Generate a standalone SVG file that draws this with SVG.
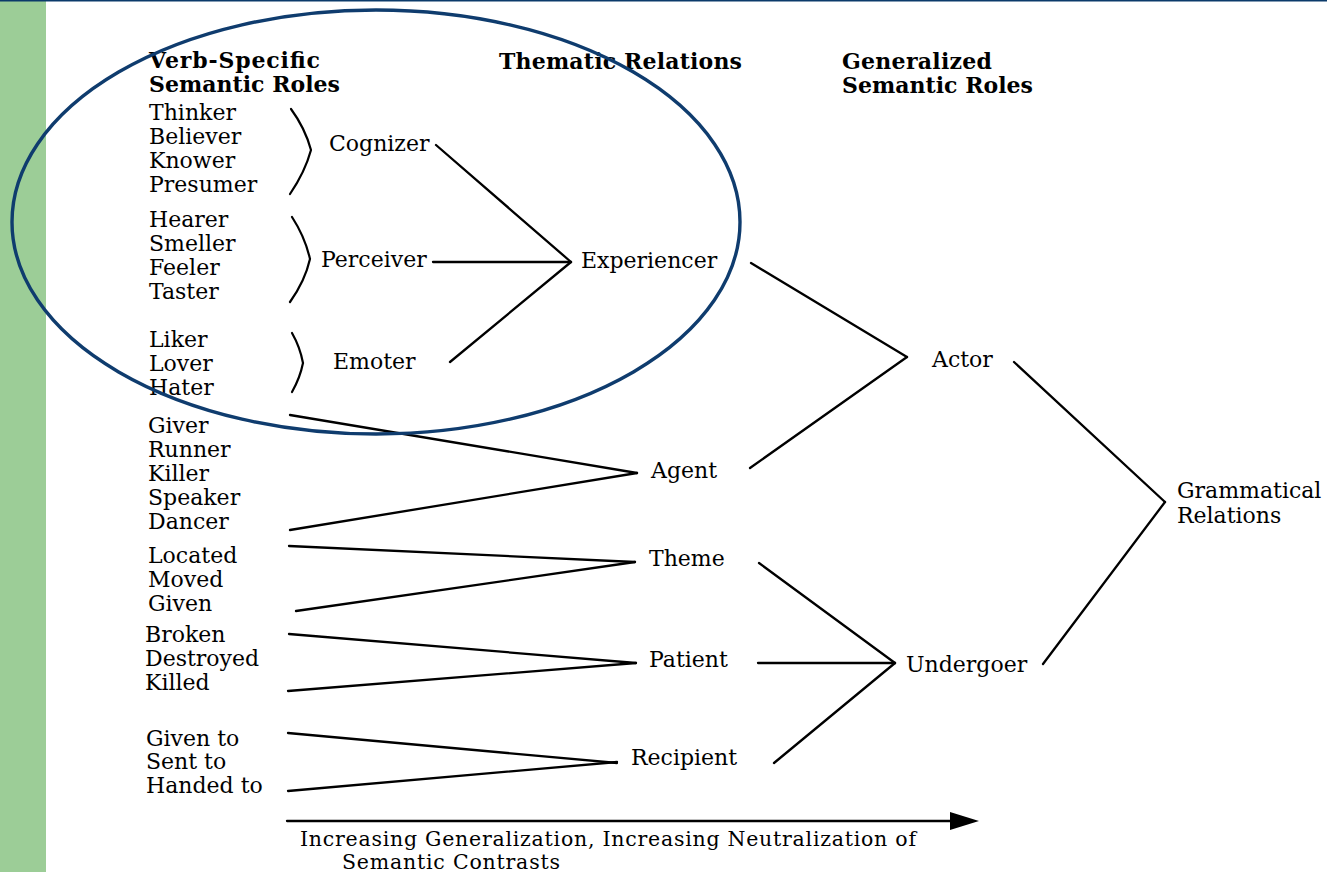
<svg xmlns="http://www.w3.org/2000/svg" width="1327" height="872" viewBox="0 0 1327 872">
<style>
text{font-family:"DejaVu Serif","Liberation Serif",serif;font-size:22px;fill:#000}
.h{font-weight:bold}
.cap{font-size:20.5px}
.c line,.c path{stroke:#000;stroke-width:2.3;fill:none;stroke-linecap:round}
.br{stroke:#000;stroke-width:2.2;fill:none;stroke-linecap:round}
</style>
<rect x="0" y="0" width="1327" height="872" fill="#fff"/>
<rect x="0" y="0" width="46" height="872" fill="#9ccd97"/>
<line x1="0" y1="0.75" x2="1327" y2="0.75" stroke="#0b3a6a" stroke-width="1.5"/>

<g id="headers">
<text class="h" x="149" y="68" textLength="171" lengthAdjust="spacing">Verb-Specific</text>
<text class="h" x="149" y="92" textLength="191" lengthAdjust="spacing">Semantic Roles</text>
<text class="h" x="499" y="69" textLength="243" lengthAdjust="spacing">Thematic Relations</text>
<text class="h" x="842" y="69" textLength="150" lengthAdjust="spacing">Generalized</text>
<text class="h" x="842" y="93" textLength="191" lengthAdjust="spacing">Semantic Roles</text>
</g>

<g id="verbs-cognizer">
<text x="149" y="120">Thinker</text>
<text x="149" y="144">Believer</text>
<text x="149" y="168">Knower</text>
<text x="149" y="192">Presumer</text>
<path class="br" d="M291,109 Q305,128 311,150 Q305,172 290,194"/>
</g>
<g id="verbs-perceiver">
<text x="149" y="227">Hearer</text>
<text x="149" y="251">Smeller</text>
<text x="149" y="275">Feeler</text>
<text x="149" y="299">Taster</text>
<path class="br" d="M292,217 Q305,237 310,259 Q305,281 290,302"/>
</g>
<g id="verbs-emoter">
<text x="149" y="347">Liker</text>
<text x="149" y="371">Lover</text>
<text x="149" y="395">Hater</text>
<path class="br" d="M292,333 Q300,347 303,363 Q300,378 292,392"/>
</g>
<g id="verbs-agent">
<text x="148" y="433">Giver</text>
<text x="148" y="457">Runner</text>
<text x="148" y="481">Killer</text>
<text x="148" y="505">Speaker</text>
<text x="148" y="529">Dancer</text>
</g>
<g id="verbs-theme">
<text x="148" y="563">Located</text>
<text x="148" y="587">Moved</text>
<text x="148" y="611">Given</text>
</g>
<g id="verbs-patient">
<text x="145" y="642">Broken</text>
<text x="145" y="666">Destroyed</text>
<text x="145" y="690">Killed</text>
</g>
<g id="verbs-recipient">
<text x="146" y="746">Given to</text>
<text x="146" y="769">Sent to</text>
<text x="146" y="793">Handed to</text>
</g>

<g id="cognizer"><text x="329" y="151">Cognizer</text></g>
<g id="perceiver"><text x="321" y="267">Perceiver</text></g>
<g id="emoter"><text x="333" y="369">Emoter</text></g>
<g id="experiencer"><text x="581" y="268">Experiencer</text></g>
<g id="agent"><text x="651" y="478">Agent</text></g>
<g id="theme"><text x="649" y="566">Theme</text></g>
<g id="patient"><text x="649" y="667">Patient</text></g>
<g id="recipient"><text x="631" y="765">Recipient</text></g>
<g id="actor"><text x="932" y="367">Actor</text></g>
<g id="undergoer"><text x="906" y="672">Undergoer</text></g>
<g id="grammatical"><text x="1177" y="498">Grammatical</text><text x="1177" y="523">Relations</text></g>

<g id="connectors" class="c">
<line x1="436" y1="145" x2="571" y2="262"/>
<line x1="433" y1="262" x2="571" y2="262"/>
<line x1="450" y1="362" x2="571" y2="262"/>
<line x1="751" y1="263" x2="907" y2="357"/>
<line x1="750" y1="468" x2="907" y2="357"/>
<line x1="1014" y1="362" x2="1165" y2="502"/>
<line x1="1043" y1="664" x2="1165" y2="502"/>
<line x1="759" y1="563" x2="895" y2="663"/>
<line x1="758" y1="663" x2="895" y2="663"/>
<line x1="774" y1="763" x2="895" y2="663"/>
<line x1="290" y1="415" x2="637" y2="473"/>
<line x1="290" y1="530" x2="637" y2="473"/>
<line x1="289" y1="546" x2="635" y2="562"/>
<line x1="296" y1="611" x2="635" y2="562"/>
<line x1="289" y1="634" x2="636" y2="663"/>
<line x1="288" y1="691" x2="636" y2="663"/>
<line x1="288" y1="733" x2="617" y2="763"/>
<line x1="288" y1="791" x2="617" y2="762"/>
<line x1="287" y1="821" x2="955" y2="821"/>
<polygon points="950,812 979,821 950,830" fill="#000"/>
</g>

<g id="caption">
<text class="cap" x="300" y="846" textLength="616" lengthAdjust="spacing">Increasing Generalization, Increasing Neutralization of</text>
<text class="cap" x="342" y="869" textLength="218" lengthAdjust="spacing">Semantic Contrasts</text>
</g>

<ellipse cx="376" cy="222" rx="364" ry="212" fill="none" stroke="#0f3c6e" stroke-width="3.4"/>
</svg>
